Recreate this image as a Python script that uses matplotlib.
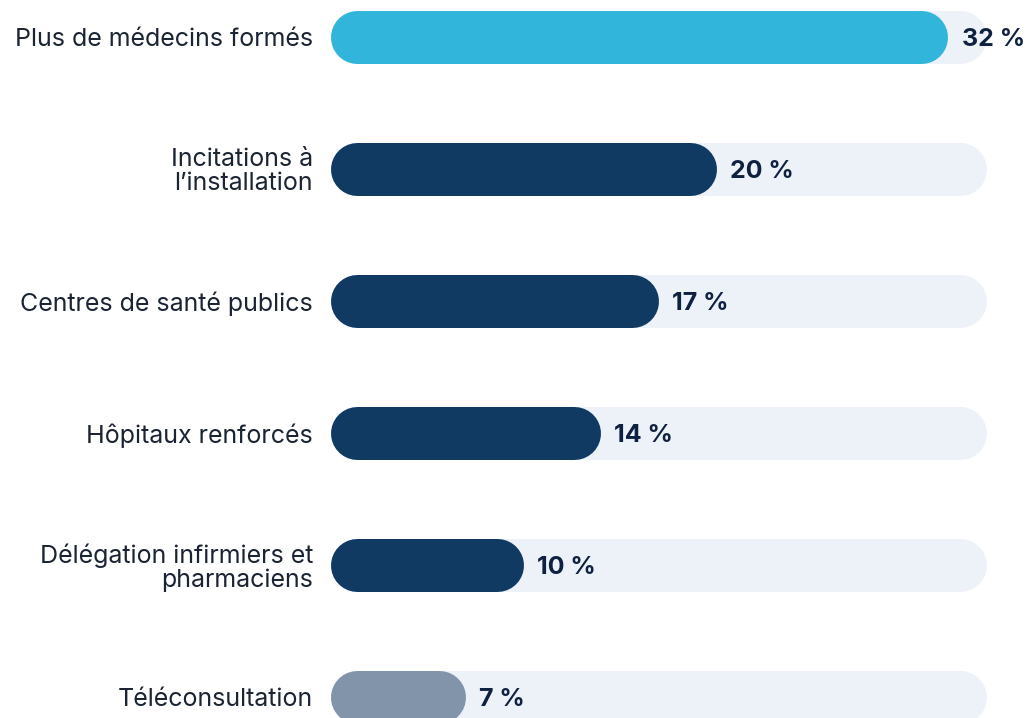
import matplotlib.pyplot as plt

categories = ["Plus de médecins formés", "Incitations à\nl’installation", "Centres de santé publics",
              "Hôpitaux renforcés", "Délégation infirmiers et\npharmaciens", "Téléconsultation"]
values = [32, 20, 17, 14, 10, 7]
colors = ["#31B5DB", "#113A63", "#113A63", "#113A63", "#113A63", "#8294A9"]
track_max = 34

plt.rcParams['font.family'] = ['Inter', 'DejaVu Sans']

W, H = 1028, 718
fig = plt.figure(figsize=(W / 100, H / 100), dpi=100)
# axes from the bar origin (px 330) to the right edge of the figure
ax = fig.add_axes([330 / W, 0, 1 - 330 / W, 1])
px_per_x = 19.3
px_per_row = 132
ax.set_xlim(0, (W - 330) / px_per_x)
ax.set_ylim((H - 37) / px_per_row, -37 / px_per_row)
ax.axis('off')

bar_px = 53
r = bar_px / 2 / px_per_x   # cap radius in x units
lw = bar_px * 72 / 100


def rounded(width, y, color, z):
    ax.plot([r, width - r], [y, y], color=color, lw=lw, solid_capstyle='round',
            zorder=z, clip_on=False)


for i, (cat, v, c) in enumerate(zip(categories, values, colors)):
    rounded(track_max, i, "#EDF2F9", 1)
    rounded(v, i, c, 2)
    ax.text(v + 14 / px_per_x, i, f"{v} %", ha='left', va='center_baseline', fontsize=18,
            fontweight='bold', color="#0F2140", zorder=3)
    ax.text(-17 / px_per_x, i, cat, ha='right', va='center_baseline', fontsize=18,
            color="#1B2433", linespacing=1.0, clip_on=False)

fig.savefig("out.png", dpi=100)
